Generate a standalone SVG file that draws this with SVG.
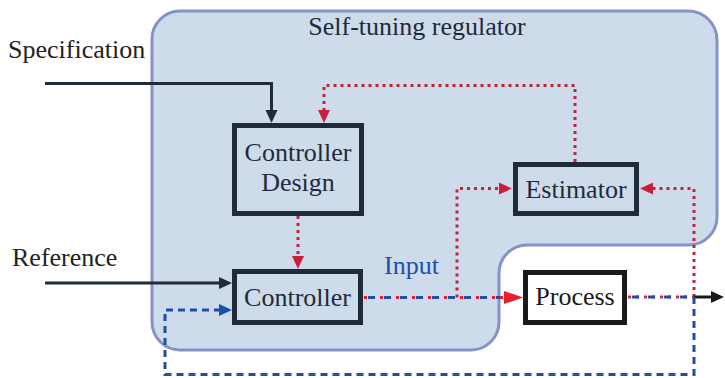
<svg xmlns="http://www.w3.org/2000/svg" width="725" height="378" viewBox="0 0 725 378">
  <style>
    .lbl { font-family: "Liberation Serif", "Times New Roman", serif; font-size: 26px; fill: #1f2a3a; }
    .outer { font-family: "Liberation Serif", "Times New Roman", serif; font-size: 26px; fill: #222222; }
    .mid { text-anchor: middle; }
    .box { fill: #cedbeb; stroke: #1f2a3a; stroke-width: 5; }
    .plant { fill: #ffffff; stroke: #1a1a1a; stroke-width: 5; }
    .solid { fill: none; stroke: #1f2a3a; stroke-width: 3; }
    .solidk { fill: none; stroke: #1a1a1a; stroke-width: 3; }
    .dot { fill: none; stroke: #c8203c; stroke-width: 3; stroke-dasharray: 3 4; }
    .dotb { fill: none; stroke: #e0202e; stroke-width: 3; stroke-dasharray: 3 5; }
    .dash { fill: none; stroke: #1c50a8; stroke-width: 3; stroke-dasharray: 7 5; }
    .dashs { fill: none; stroke: #1c50a8; stroke-width: 3; stroke-dasharray: 7 9; stroke-dashoffset: -4; }
  </style>
  <defs>
    <marker id="ahDark" markerUnits="userSpaceOnUse" markerWidth="14" markerHeight="14" refX="0" refY="7" orient="auto" overflow="visible">
      <path d="M0,1 L13,7 L0,13 Z" fill="#1f2a3a"/>
    </marker>
    <marker id="ahBlack" markerUnits="userSpaceOnUse" markerWidth="14" markerHeight="14" refX="0" refY="7" orient="auto" overflow="visible">
      <path d="M0,1 L13,7 L0,13 Z" fill="#1a1a1a"/>
    </marker>
    <marker id="ahRed" markerUnits="userSpaceOnUse" markerWidth="14" markerHeight="14" refX="0" refY="7" orient="auto" overflow="visible">
      <path d="M0,1 L13,7 L0,13 Z" fill="#c8203c"/>
    </marker>
    <marker id="ahBlue" markerUnits="userSpaceOnUse" markerWidth="14" markerHeight="14" refX="0" refY="7" orient="auto" overflow="visible">
      <path d="M0,1 L13,7 L0,13 Z" fill="#1c50a8"/>
    </marker>
    <marker id="ahBright" markerUnits="userSpaceOnUse" markerWidth="20" markerHeight="14" refX="0" refY="7" orient="auto" overflow="visible">
      <path d="M0,0.5 L19,7 L0,13.5 Z" fill="#e8202a"/>
    </marker>
  </defs>

  <!-- self-tuning regulator region -->
  <g id="regulator">
    <path d="M180,11 H688 A29,29 0 0 1 717,40 V217 A28,28 0 0 1 689,245 H527 A28,28 0 0 0 499,273 V322 A28,28 0 0 1 471,350 H180 A28,28 0 0 1 152,322 V39 A28,28 0 0 1 180,11 Z" fill="#cedbeb" stroke="#8592c8" stroke-width="3"/>
    <text class="lbl mid" x="417" y="35">Self-tuning regulator</text>
  </g>

  <g id="connectors">
    <!-- specification into design -->
    <path class="solid" d="M45,83.5 H271.5 V110" marker-end="url(#ahDark)"/>
    <!-- reference into controller -->
    <path class="solid" d="M45,283 H219" marker-end="url(#ahDark)"/>
    <!-- estimator parameters back to design -->
    <path class="dot" d="M575,162 V85.5 H324 V110" marker-end="url(#ahRed)"/>
    <!-- design to controller -->
    <path class="dot" d="M298,216 V256" marker-end="url(#ahRed)"/>
    <!-- control signal to estimator -->
    <path class="dot" d="M457,297.5 V188.5 H499" marker-end="url(#ahRed)"/>
    <!-- process output to estimator -->
    <path class="dot" d="M694,297 V188.5 H653" marker-end="url(#ahRed)"/>
    <!-- controller to process -->
    <path class="dotb" d="M364,297.5 H504" marker-end="url(#ahBright)"/>
    <path class="dashs" d="M364,297.5 H500"/>
    <!-- process output -->
    <path class="dotb" d="M628,297 H694"/>
    <path class="dashs" d="M628,297 H694"/>
    <path class="solidk" d="M694,297 H711" marker-end="url(#ahBlack)"/>
    <!-- output feedback to controller -->
    <path class="dash" d="M694,297 V374.5 H165 V310 H219" marker-end="url(#ahBlue)"/>
  </g>

  <g id="design">
    <rect class="box" x="234.5" y="125.5" width="127" height="88"/>
    <text class="lbl mid" x="298" y="161">Controller</text>
    <text class="lbl mid" x="298" y="191">Design</text>
  </g>

  <g id="controller">
    <rect class="box" x="234.5" y="271.5" width="126" height="51"/>
    <text class="lbl mid" x="297.5" y="306">Controller</text>
  </g>

  <g id="estimator">
    <rect class="box" x="515.5" y="164.5" width="121" height="49"/>
    <text class="lbl mid" x="576" y="198">Estimator</text>
  </g>

  <g id="process">
    <rect class="plant" x="525.5" y="272.5" width="99" height="50"/>
    <text class="lbl mid" x="575" y="305" style="fill:#1a1a1a">Process</text>
  </g>

  <g id="labels">
    <text class="outer" x="8" y="58">Specification</text>
    <text class="outer" x="12" y="266">Reference</text>
    <text class="lbl" x="384" y="274" style="fill:#1c50a8">Input</text>
  </g>
</svg>
